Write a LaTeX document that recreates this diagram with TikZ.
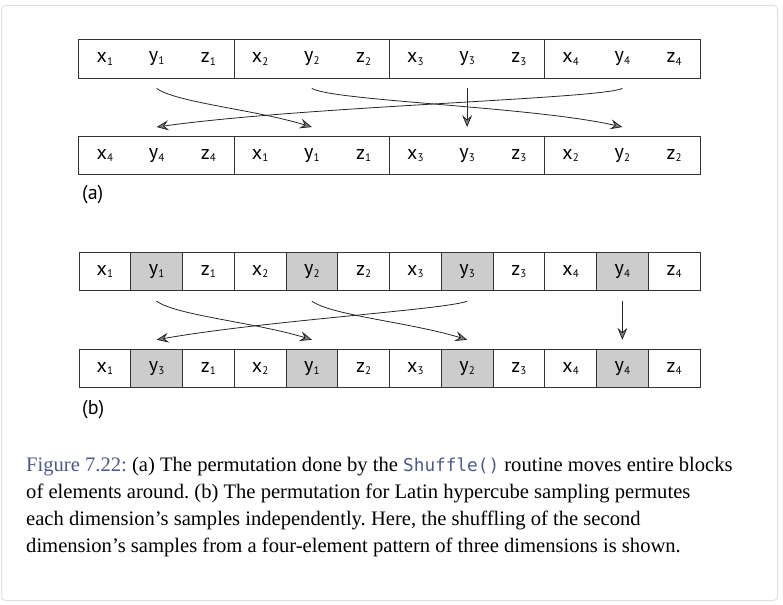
\documentclass[tikz,border=0pt]{standalone}
\usepackage{fontspec}
\setmainfont{Liberation Serif}
\setmonofont{DejaVu Sans Mono}[Scale=0.86]
\newfontfamily\cellfont{PT Sans}
\usetikzlibrary{arrows.meta}
\frenchspacing

\definecolor{figblue}{RGB}{74,90,140}
\definecolor{cellgray}{RGB}{204,204,204}
\definecolor{boxline}{RGB}{51,51,51}
\newcommand{\cellsub}[2]{#1\raisebox{-0.14em}{\fontsize{11}{11}\selectfont #2}}

\tikzset{
  cella/.style={minimum width=51.75pt,minimum height=38.5pt,inner sep=0pt,
    font=\cellfont\fontsize{20}{20}\selectfont},
  cellb/.style={cella,draw=boxline,line width=1pt},
  blockline/.style={draw=boxline,line width=1pt},
  perm/.style={draw=black!85,line width=0.8pt,
    -{Stealth[length=12pt,width=10pt,inset=4.5pt,fill=black!50]}},
  caption/.style={inner sep=0pt,anchor=base west,font=\fontsize{20.6}{27}\selectfont}
}

\begin{document}
\begin{tikzpicture}[x=1pt,y=-1pt]
      \useasboundingbox (0,0) rectangle (783,604);
      \draw[draw=black!12,line width=1pt,rounded corners=4pt] (1.5,5.5) rectangle (777.5,600.5);
      % (a) blocks move as a whole
      \foreach \v/\s [count=\i] in {x/1,y/1,z/1,x/2,y/2,z/2,x/3,y/3,z/3,x/4,y/4,z/4}
        \node[cella] (ta\i) at ({79+51.75*(\i-0.5)},59) {\cellsub{\v}{\s}};
      \foreach \v/\s [count=\i] in {x/4,y/4,z/4,x/1,y/1,z/1,x/3,y/3,z/3,x/2,y/2,z/2}
        \node[cella] (ba\i) at ({79+51.75*(\i-0.5)},155.5) {\cellsub{\v}{\s}};
      \foreach \f/\l in {1/3,4/6,7/9,10/12} {
        \draw[blockline] (ta\f.north west) rectangle (ta\l.south east);
        \draw[blockline] (ba\f.north west) rectangle (ba\l.south east);
      }
      \node[cella,minimum width=0pt,anchor=west] (la) at (82,195) {(a)};
      \begin{scope}[perm]
        \draw ([yshift=-10pt]ta2.south) to[out=-35,in=163,out distance=25pt,in distance=60pt] ([yshift=9pt]ba5.north);
        \draw ([yshift=-10pt]ta5.south) to[out=-30,in=167,out distance=25pt,in distance=90pt] ([yshift=9pt]ba11.north);
        \draw ([yshift=-10pt]ta8.south) to ([yshift=9pt]ba8.north);
        \draw ([yshift=-10pt]ta11.south) to[out=-155,in=8,out distance=25pt,in distance=150pt] ([yshift=9pt]ba2.north);
      \end{scope}
      % (b) only the second dimension is shuffled
      \foreach \v/\s [count=\i] in {x/1,y/1,z/1,x/2,y/2,z/2,x/3,y/3,z/3,x/4,y/4,z/4} {
        \def\cellfill{white}\if y\v\def\cellfill{cellgray}\fi
        \node[cellb,fill=\cellfill] (tb\i) at ({79+51.75*(\i-0.5)},271.5) {\cellsub{\v}{\s}};
      }
      \foreach \v/\s [count=\i] in {x/1,y/3,z/1,x/2,y/1,z/2,x/3,y/2,z/3,x/4,y/4,z/4} {
        \def\cellfill{white}\if y\v\def\cellfill{cellgray}\fi
        \node[cellb,fill=\cellfill] (bb\i) at ({79+51.75*(\i-0.5)},368.5) {\cellsub{\v}{\s}};
      }
      \node[cella,minimum width=0pt,anchor=west] (lb) at (82,410) {(b)};
      \begin{scope}[perm]
        \draw ([yshift=-10pt]tb2.south) to[out=-35,in=163,out distance=25pt,in distance=60pt] ([yshift=9pt]bb5.north);
        \draw ([yshift=-10pt]tb5.south) to[out=-35,in=163,out distance=25pt,in distance=60pt] ([yshift=9pt]bb8.north);
        \draw ([yshift=-10pt]tb8.south) to[out=-160,in=10,out distance=25pt,in distance=110pt] ([yshift=9pt]bb2.north);
        \draw ([yshift=-10pt]tb11.south) to ([yshift=9pt]bb11.north);
      \end{scope}
      % caption
      \node[caption] (cap1) at (26,471) {\textcolor{figblue}{Figure 7.22:} (a) The permutation done by the \textcolor{figblue}{\texttt{Shuffle()}} routine moves entire blocks};
      \node[caption] (cap2) at (26,498) {of elements around. (b) The permutation for Latin hypercube sampling permutes};
      \node[caption] (cap3) at (26,525) {each dimension’s samples independently. Here, the shuffling of the second};
      \node[caption] (cap4) at (26,552) {dimension’s samples from a four-element pattern of three dimensions is shown.};
    \end{tikzpicture}
\end{document}
